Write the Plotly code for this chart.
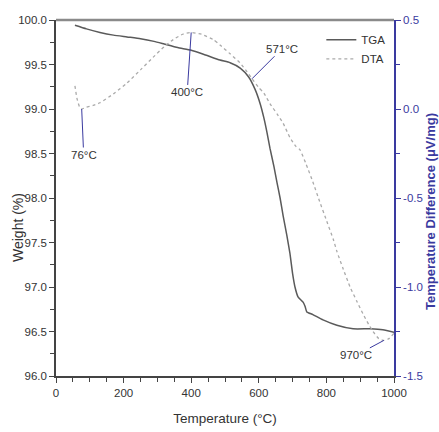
import plotly.graph_objects as go

# ---------------- data ----------------
tga_temp = [56, 90, 130, 170, 210, 250, 290, 320, 360, 400, 440, 485, 515, 545, 570,
            589, 604, 615, 624, 633, 645, 654, 663, 672, 683, 692, 700, 707, 716,
            731, 737, 742, 760, 790, 831, 879, 929, 967, 1000]
tga_weight = [99.94, 99.90, 99.86, 99.83, 99.81, 99.79, 99.76, 99.73, 99.69, 99.66,
              99.61, 99.55, 99.52, 99.46, 99.36, 99.22, 99.06, 98.90, 98.74, 98.56,
              98.35, 98.17, 98.00, 97.80, 97.58, 97.38, 97.15, 97.00, 96.89, 96.83,
              96.78, 96.72, 96.69, 96.63, 96.57, 96.53, 96.53, 96.52, 96.49]

dta_temp = [56, 62, 70, 76, 90, 110, 130, 170, 210, 250, 287, 320, 347, 375, 400, 430,
            465, 485, 515, 544, 565, 580, 600, 615, 633, 655, 672, 692, 710, 722, 740,
            760, 780, 801, 820, 831, 850, 870, 890, 908, 925, 938, 955, 970, 985, 1000]
dta_diff = [0.13, 0.06, 0.01, 0.00, 0.01, 0.02, 0.035, 0.085, 0.146, 0.22, 0.29, 0.35,
            0.39, 0.42, 0.43, 0.42, 0.39, 0.36, 0.31, 0.26, 0.21, 0.17, 0.12, 0.09,
            0.03, -0.03, -0.08, -0.16, -0.21, -0.23, -0.31, -0.41, -0.52, -0.63,
            -0.73, -0.80, -0.90, -1.00, -1.08, -1.15, -1.21, -1.25, -1.29, -1.30,
            -1.29, -1.26]

peak_labels = ["76°C", "400°C", "571°C", "970°C"]
peak_temps = [76, 400, 580, 970]
peak_vals = [0.00, 0.43, 0.17, -1.30]

x_ticks = [0, 200, 400, 600, 800, 1000]
y1_ticks = [96.0, 96.5, 97.0, 97.5, 98.0, 98.5, 99.0, 99.5, 100.0]
y2_ticks = [-1.5, -1.0, -0.5, 0.0, 0.5]
y2_ticktext = ["-1.5", "-1.0", "-0.5", "0.0", "0.5"]

# ---------------- figure ----------------
BLUE = "#3a3aa0"
GREY = "#444444"
TXT = "#333333"
FONT = "Liberation Sans, Arial, sans-serif"

fig = go.Figure()
fig.add_trace(go.Scatter(x=tga_temp, y=tga_weight, mode="lines", name="TGA",
                         line=dict(color="#5a5a5a", width=1.5, shape="spline",
                                   smoothing=0.5), yaxis="y"))
fig.add_trace(go.Scatter(x=dta_temp, y=dta_diff, mode="lines", name="DTA",
                         line=dict(color="#aaaaaa", width=1.3, dash="dot",
                                   shape="spline", smoothing=0.5), yaxis="y2"))

offsets = [(2, 46), (-4, 60), (30, -30), (-28, 15)]
for lab, t, v, (ax, ay) in zip(peak_labels, peak_temps, peak_vals, offsets):
    fig.add_annotation(x=t, y=v, xref="x", yref="y2", text=lab, showarrow=True,
                       arrowhead=0, arrowwidth=1, arrowcolor=BLUE, ax=ax, ay=ay,
                       font=dict(family=FONT, size=11.5, color=TXT))

# axis titles
fig.add_annotation(text="Weight (%)", xref="paper", yref="paper", x=0, y=0.5,
                   xshift=-38, yshift=-30, textangle=-90, showarrow=False,
                   xanchor="center", yanchor="middle",
                   font=dict(family=FONT, size=14, color=TXT))
fig.add_annotation(text="Temperature Difference (μV/mg)", xref="paper", yref="paper",
                   x=1, y=0.5, xshift=36, yshift=-14, textangle=-90, showarrow=False,
                   xanchor="center", yanchor="middle",
                   font=dict(family=FONT, size=13, color=BLUE, weight="bold"))

# top frame line
fig.add_shape(type="line", xref="paper", yref="paper", x0=0, x1=1, y0=1, y1=1,
              line=dict(color="#8a8a8a", width=2.5))

fig.update_layout(
    width=439, height=432,
    margin=dict(l=56, r=45, t=20, b=56),
    paper_bgcolor="white", plot_bgcolor="white",
    showlegend=True,
    legend=dict(x=0.785, y=0.985, xanchor="left", yanchor="top",
                bgcolor="rgba(0,0,0,0)", font=dict(family=FONT, size=11.5, color=TXT),
                tracegroupgap=2, itemwidth=30),
    xaxis=dict(range=[0, 1000], tickvals=x_ticks, showgrid=False, zeroline=False,
               automargin=False,
               showline=True, linecolor=GREY, linewidth=1.5,
               ticks="outside", ticklen=5, tickcolor=GREY, tickwidth=1,
               minor=dict(dtick=50, ticks="outside", ticklen=4, tickcolor=GREY),
               tickfont=dict(family=FONT, size=11.5, color=TXT),
               title=dict(text="Temperature (°C)", standoff=16,
                          font=dict(family=FONT, size=13.5, color=TXT))),
    yaxis=dict(range=[96, 100], tickvals=y1_ticks, tickformat=".1f", showgrid=False,
               automargin=False,
               zeroline=False, showline=True, linecolor=GREY, linewidth=1.5,
               ticks="outside", ticklen=5, tickcolor=GREY, tickwidth=1,
               minor=dict(dtick=0.25, ticks="outside", ticklen=4, tickcolor=GREY),
               tickfont=dict(family=FONT, size=11.5, color=TXT)),
    yaxis2=dict(range=[-1.5, 0.5], overlaying="y", side="right", tickvals=y2_ticks,
                automargin=False,
                ticktext=y2_ticktext, showgrid=False, zeroline=False, showline=True,
                linecolor=BLUE, linewidth=1.5, ticks="outside", ticklen=5,
                tickcolor=BLUE, tickwidth=1,
                minor=dict(dtick=0.25, ticks="outside", ticklen=4, tickcolor=BLUE),
                tickfont=dict(family=FONT, size=11.5, color=BLUE)),
)

fig.write_html("out.html")
